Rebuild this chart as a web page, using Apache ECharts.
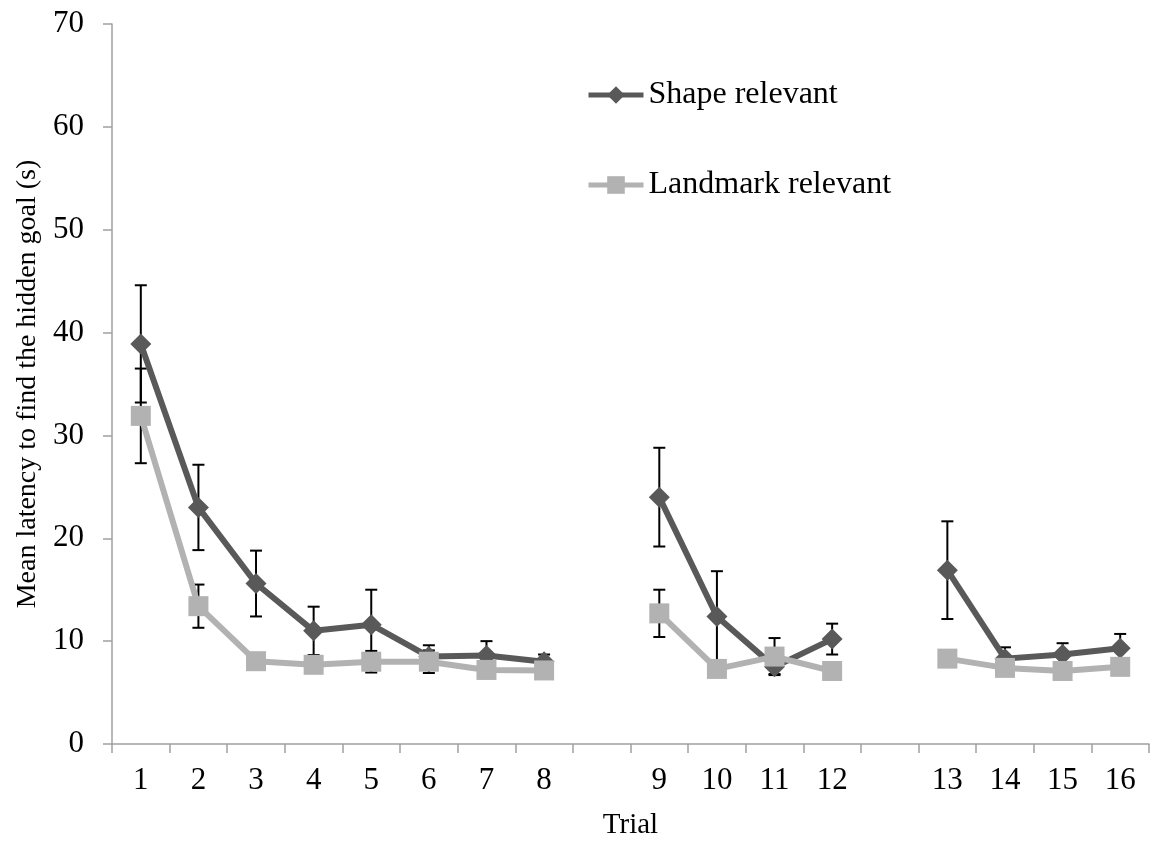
<!DOCTYPE html>
<html>
<head>
<meta charset="utf-8">
<script src="https://cdn.jsdelivr.net/npm/echarts@6/dist/echarts.min.js"></script>
<style>
  html, body { margin: 0; padding: 0; background: #ffffff; }
  #chart { width: 1152px; height: 845px; }
</style>
</head>
<body>
<div id="chart"></div>
<script>
// Trial labels; the empty entries leave a gap between the three training blocks
const trials = ['1', '2', '3', '4', '5', '6', '7', '8', '', '9', '10', '11', '12', '', '13', '14', '15', '16'];

// Mean latency (s) and error half-widths for each group
const shapeMean    = [38.9, 23.0, 15.6, 11.0, 11.6, 8.5, 8.6, 8.0, null, 24.0, 12.4, 7.5, 10.2, null, 16.9, 8.3, 8.7, 9.3];
const shapeErr     = [5.7, 4.15, 3.2, 2.35, 3.4, 1.1, 1.4, 0.7, null, 4.8, 4.4, 0.7, 1.5, null, 4.75, 1.1, 1.1, 1.4];
const landmarkMean = [31.9, 13.4, 8.05, 7.7, 8.0, 8.0, 7.2, 7.15, null, 12.7, 7.3, 8.5, 7.1, null, 8.3, 7.4, 7.1, 7.5];
const landmarkErr  = [4.6, 2.1, 0.6, 0.6, 1.05, 1.1, 0.5, 0.4, null, 2.3, 0.7, 1.8, 0.5, null, 0.6, 0.6, 0.5, 0.6];

const seriesNames = ['Shape relevant', 'Landmark relevant'];

const FONT = "'Liberation Serif', 'Times New Roman', serif";
const DARK = '#595959';
const LIGHT = '#b2b2b2';
const AXIS = '#a0a0a0';

// Vertical error bar with caps, drawn behind the line markers
function errorBars(means, errs, z) {
  const data = [];
  means.forEach((m, i) => { if (m != null) data.push([i, m, errs[i]]); });
  return {
    type: 'custom',
    z: z,
    silent: true,
    encode: { x: 0, y: 1 },
    data: data,
    renderItem: function (params, api) {
      const i = api.value(0), m = api.value(1), e = api.value(2);
      const top = api.coord([i, m + e]);
      const bot = api.coord([i, m - e]);
      const half = 6;
      const style = { stroke: '#000000', lineWidth: 2 };
      return {
        type: 'group',
        children: [
          { type: 'line', shape: { x1: top[0], y1: top[1], x2: bot[0], y2: bot[1] }, style: style },
          { type: 'line', shape: { x1: top[0] - half, y1: top[1], x2: top[0] + half, y2: top[1] }, style: style },
          { type: 'line', shape: { x1: bot[0] - half, y1: bot[1], x2: bot[0] + half, y2: bot[1] }, style: style }
        ]
      };
    }
  };
}

const chart = echarts.init(document.getElementById('chart'), null, { renderer: 'canvas' });

const legendCommon = {
  left: 586,
  padding: 0,
  orient: 'vertical',
  itemWidth: 55,
  itemHeight: 22,
  itemGap: 5,
  lineStyle: { width: 5 },
  textStyle: { fontFamily: FONT, fontSize: 32, color: '#000000', lineHeight: 32 }
};

chart.setOption({
  animation: false,
  backgroundColor: '#ffffff',
  grid: { left: 112, top: 24, width: 1037, height: 721, containLabel: false },
  legend: [
    Object.assign({}, legendCommon, { data: [seriesNames[0]], top: 79 }),
    Object.assign({}, legendCommon, { data: [seriesNames[1]], top: 169 })
  ],
  xAxis: {
    type: 'category',
    data: trials,
    boundaryGap: true,
    name: 'Trial',
    nameLocation: 'middle',
    nameGap: 67,
    nameTextStyle: { fontFamily: FONT, fontSize: 29, color: '#000000' },
    axisLine: { show: true, lineStyle: { color: AXIS, width: 1.5 } },
    axisTick: { show: true, interval: 0, alignWithLabel: false, length: 9, lineStyle: { color: AXIS, width: 1.5 } },
    axisLabel: { interval: 0, margin: 21, fontFamily: FONT, fontSize: 31, color: '#000000' },
    splitLine: { show: false }
  },
  yAxis: {
    type: 'value',
    min: 0,
    max: 70,
    interval: 10,
    name: 'Mean latency to find the hidden goal (s)',
    nameLocation: 'middle',
    nameGap: 68,
    nameTextStyle: { fontFamily: FONT, fontSize: 28, color: '#000000' },
    axisLine: { show: true, lineStyle: { color: AXIS, width: 1.5 } },
    axisTick: { show: true, length: 9, lineStyle: { color: AXIS, width: 1.5 } },
    axisLabel: { margin: 28, fontFamily: FONT, fontSize: 31, color: '#000000' },
    splitLine: { show: false }
  },
  series: [
    errorBars(shapeMean, shapeErr, 1),
    errorBars(landmarkMean, landmarkErr, 1),
    {
      name: seriesNames[0],
      type: 'line',
      z: 3,
      data: shapeMean,
      connectNulls: false,
      symbol: 'diamond',
      symbolSize: [21, 21],
      showSymbol: true,
      lineStyle: { color: DARK, width: 6 },
      itemStyle: { color: DARK, borderWidth: 0 },
      emphasis: { disabled: true }
    },
    {
      name: seriesNames[1],
      type: 'line',
      z: 4,
      data: landmarkMean,
      connectNulls: false,
      symbol: 'rect',
      symbolSize: 20,
      showSymbol: true,
      lineStyle: { color: LIGHT, width: 6 },
      itemStyle: { color: LIGHT, borderWidth: 0 },
      emphasis: { disabled: true }
    }
  ]
});
</script>
</body>
</html>
